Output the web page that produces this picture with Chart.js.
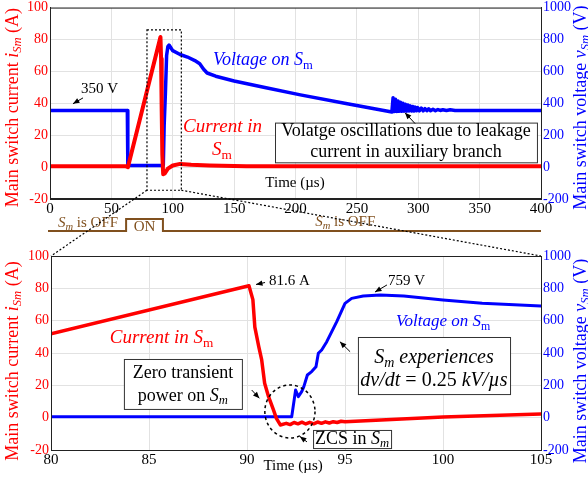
<!DOCTYPE html>
<html>
<head>
<meta charset="utf-8">
<script src="https://cdn.jsdelivr.net/npm/chart.js@4.4.0/dist/chart.umd.min.js"></script>
<style>
  html, body { margin: 0; padding: 0; background: #fff; }
  #wrap { position: relative; width: 588px; height: 478px; }
  #wrap canvas { position: absolute; left: 0; top: 0; }
</style>
</head>
<body>
<div id="wrap">
  <canvas id="overview" width="588" height="478"></canvas>
  <canvas id="detail" width="588" height="478"></canvas>
</div>
<script>

// overview: 0 .. 400 us
const ovCurT = [0, 62, 63.5, 90, 90.5, 91, 91.5, 92.2, 93.5, 96, 100, 106, 115, 130, 160, 400];
const ovCurA = [0.5, 0.5, 0, 81.6, 68, 35, 8, -4.5, -4, -1, 1, 2, 1.5, 1, 0.5, 0.5];

const ovVoltT = [0, 63, 63.4, 92.3, 93, 94, 95, 96, 97, 100, 106, 112, 118, 122, 125, 128, 135, 150, 176, 204, 240, 278.5,
  279.5, 280.5, 281.5, 282.5, 283.5, 284.5, 285.5, 286.5, 287.5, 288.5, 289.5, 290.5, 291.5, 292.5, 293.5, 294.5,
  295.5, 296.5, 297.5, 298.5, 299.5, 301, 302.5, 304, 305.5, 307, 308.5, 310, 312, 314, 316, 318, 320, 323, 326, 330, 400];
const ovVoltV = [355, 355, 10, 10, 260, 460, 700, 755, 765, 730, 706, 690, 668, 648, 615, 590, 570, 540, 498, 453, 400, 345,
  435, 348, 425, 349, 415, 350, 407, 350, 400, 351, 394, 351, 389, 352, 384, 352,
  380, 352, 376, 353, 373, 353, 370, 353, 367, 354, 365, 354, 363, 354, 361, 355, 360, 355, 359, 355, 355];

// gate signal of Sm (0 = off, 1 = on)
const gateT = [0, 62, 62, 92, 92, 400];
const gateOn = [0, 0, 1, 1, 0, 0];

// dotted zoom window in the overview: t0, t1, low A, high A
const zoomWin = [79, 107, -14.5, 86];

// detail: 80 .. 105 us
const detCurT = [80, 90.1, 90.3, 90.4, 90.6, 90.75, 90.9, 91.1, 91.35, 91.5, 91.7, 92.0, 92.2, 92.4, 92.6, 92.8, 93.0,
  93.2, 93.4, 93.6, 93.8, 94.0, 94.2, 94.4, 94.6, 94.8, 95, 100, 105];
const detCurA = [51.8, 81.6, 73, 56, 44, 35.7, 21.3, 13, 4.8, -0.4, -4.5, -3.5, -4.3, -3, -3.8, -2.8, -3.9,
  -2.9, -3.8, -2.7, -3.5, -2.6, -3.3, -2.5, -3.0, -2.2, -2.5, 0.4, 2.3];

const detVoltT = [80, 92.28, 92.48, 92.62, 92.79, 92.9, 93.08, 93.3, 93.52, 93.64, 93.81, 94.07, 94.58, 95.0, 95.34,
  95.93, 96.8, 98, 100, 102, 105];
const detVoltV = [5, 5, 171, 130, 161, 192, 264, 285, 315, 398, 419, 470, 594, 707, 738, 752, 759, 752, 728, 708, 690];

// ticks
const ovTimeTicks = [0, 50, 100, 150, 200, 250, 300, 350, 400];
const detTimeTicks = [80, 85, 90, 95, 100, 105];
const ampTicks = [-20, 0, 20, 40, 60, 80, 100];
const voltTicks = [-200, 0, 200, 400, 600, 800, 1000];

// ---- drawing helpers ----
const SERIF = "'Liberation Serif', 'Times New Roman', serif";
const BROWN = '#80501e';
Chart.defaults.font.family = SERIF;

function fnt(size, italic) { return (italic ? 'italic ' : '') + size + 'px ' + SERIF; }

// runs: [text, italic, subscript]
function drawRich(ctx, runs, x, y, size, color, align) {
  let w = 0;
  runs.forEach(r => { ctx.font = fnt(r[2] ? size * 0.7 : size, r[1]); w += ctx.measureText(r[0]).width; });
  let cx = align === 'center' ? x - w / 2 : (align === 'right' ? x - w : x);
  ctx.fillStyle = color;
  ctx.textBaseline = 'middle';
  ctx.textAlign = 'left';
  runs.forEach(r => {
    ctx.font = fnt(r[2] ? size * 0.7 : size, r[1]);
    ctx.fillText(r[0], cx, y + (r[2] ? size * 0.28 : 0));
    cx += ctx.measureText(r[0]).width;
  });
}

function arrow(ctx, x0, y0, x1, y1) {
  const a = Math.atan2(y1 - y0, x1 - x0), L = 7;
  ctx.setLineDash([]);
  ctx.strokeStyle = '#000'; ctx.fillStyle = '#000'; ctx.lineWidth = 1;
  ctx.beginPath(); ctx.moveTo(x0, y0); ctx.lineTo(x1, y1); ctx.stroke();
  ctx.beginPath(); ctx.moveTo(x1, y1);
  ctx.lineTo(x1 - L * Math.cos(a - 0.4), y1 - L * Math.sin(a - 0.4));
  ctx.lineTo(x1 - L * Math.cos(a + 0.4), y1 - L * Math.sin(a + 0.4));
  ctx.closePath(); ctx.fill();
}

function box(ctx, x0, y0, x1, y1) {
  ctx.setLineDash([]);
  ctx.fillStyle = '#fff';
  ctx.fillRect(x0, y0, x1 - x0, y1 - y0);
  ctx.strokeStyle = '#333'; ctx.lineWidth = 1;
  ctx.strokeRect(x0 + 0.5, y0 + 0.5, x1 - x0, y1 - y0);
}

function axisTitles(ctx, a, mid) {
  ctx.save();
  ctx.translate(13, mid); ctx.rotate(-Math.PI / 2);
  drawRich(ctx, [['Main switch current ', false], ['i', true], ['Sm', true, true], [' (A)', false]], 0, 0, 18, '#ff0000', 'center');
  ctx.restore();
  ctx.save();
  ctx.translate(581, mid); ctx.rotate(-Math.PI / 2);
  drawRich(ctx, [['Main switch voltage ', false], ['v', true], ['Sm', true, true], [' (V)', false]], 0, 0, 18, '#0000ff', 'center');
  ctx.restore();
}

function pts(ts, vs) { return ts.map((t, i) => ({ x: t, y: vs[i] })); }

function setTicks(arr) { return s => { s.ticks = arr.map(v => ({ value: v })); }; }

function scalesFor(timeTicks, tmin, tmax, leftW) {
  const grid = { color: '#e2e2e2', drawTicks: false };
  return {
    x: {
      type: 'linear', min: tmin, max: tmax,
      afterBuildTicks: setTicks(timeTicks),
      afterFit: s => { s.height = 20; },
      grid: grid, border: { color: '#222' },
      ticks: { color: '#000', font: { size: 15 }, padding: 1, maxRotation: 0, callback: v => String(v) }
    },
    yA: {
      position: 'left', min: -20, max: 100,
      afterBuildTicks: setTicks(ampTicks),
      afterFit: s => { s.width = leftW; },
      grid: grid, border: { color: '#222' },
      ticks: { color: '#ff0000', font: { size: 14, lineHeight: 0.8 }, padding: 2, callback: v => String(v) }
    },
    yV: {
      position: 'right', min: -200, max: 1000,
      afterBuildTicks: setTicks(voltTicks),
      afterFit: s => { s.width = 47; },
      grid: { display: false, drawTicks: false }, border: { color: '#222' },
      ticks: { color: '#0000ff', font: { size: 14, lineHeight: 0.8 }, padding: 2, callback: v => String(v) }
    }
  };
}

// ---- overview chart ----
const ovDecor = {
  id: 'ovDecor',
  afterDraw(c) {
    const ctx = c.ctx, a = c.chartArea;
    const X = v => c.scales.x.getPixelForValue(v), Y = v => c.scales.yA.getPixelForValue(v);
    ctx.save();
    ctx.setLineDash([]);
    ctx.strokeStyle = '#222'; ctx.lineWidth = 1;
    ctx.strokeRect(a.left + 0.5, a.top + 0.5, a.right - a.left, a.bottom - a.top);

    // zoom window
    ctx.setLineDash([2, 2]); ctx.strokeStyle = '#000'; ctx.lineWidth = 1.2;
    ctx.strokeRect(X(zoomWin[0]), Y(zoomWin[3]), X(zoomWin[1]) - X(zoomWin[0]), Y(zoomWin[2]) - Y(zoomWin[3]));

    // labels
    drawRich(ctx, [['350 V', false]], X(25.3), Y(49), 15, '#000', 'left');
    arrow(ctx, X(26.9), Y(43.4), X(18.7), Y(39.7));
    drawRich(ctx, [['Voltage on ', true], ['S', true], ['m', false, true]], X(132.8), Y(67), 18, '#0000ff', 'left');
    drawRich(ctx, [['Current in', true]], X(140.5), Y(25.4), 19, '#ff0000', 'center');
    drawRich(ctx, [['S', true], ['m', false, true]], X(140), Y(10.5), 19, '#ff0000', 'center');

    box(ctx, X(183.3), Y(27.9), X(396.7), Y(3));
    drawRich(ctx, [['Volatge oscillations due to leakage', false]], X(290), Y(22.6), 18, '#000', 'center');
    drawRich(ctx, [['current in auxiliary branch', false]], X(290), Y(9.2), 18, '#000', 'center');
    arrow(ctx, X(297.4), Y(27.3), X(289.2), Y(34.1));

    drawRich(ctx, [['Time (\u00b5s)', false]], X(199.6), Y(-10), 15, '#000', 'center');

    // gate signal under the time axis
    ctx.setLineDash([]);
    ctx.strokeStyle = BROWN; ctx.lineWidth = 2;
    ctx.beginPath();
    gateT.forEach((t, i) => {
      const px = X(t) + (i === 0 ? -2 : 0), py = a.bottom + 32 - gateOn[i] * 12;
      if (i === 0) ctx.moveTo(px, py); else ctx.lineTo(px, py);
    });
    ctx.stroke();
    drawRich(ctx, [['S', true], ['m', true, true], [' is OFF', false]], X(6.5), a.bottom + 24, 15, BROWN, 'left');
    drawRich(ctx, [['ON', false]], X((gateT[2] + gateT[3]) / 2), a.bottom + 28, 15, BROWN, 'center');
    drawRich(ctx, [['S', true], ['m', true, true], [' is OFF', false]], X(216), a.bottom + 23, 15, BROWN, 'left');

    axisTitles(ctx, a, a.top + 100);
    ctx.restore();
  }
};

const lineStyle = { pointRadius: 0, tension: 0, borderJoinStyle: 'round', borderCapStyle: 'round' };

const ovChart = new Chart(document.getElementById('overview'), {
  type: 'line',
  data: {
    datasets: [
      Object.assign({ label: 'Current', data: pts(ovCurT, ovCurA), yAxisID: 'yA', borderColor: '#ff0000', borderWidth: 4 }, lineStyle),
      Object.assign({ label: 'Voltage', data: pts(ovVoltT, ovVoltV), yAxisID: 'yV', borderColor: '#0000ff', borderWidth: 3.5 }, lineStyle)
    ]
  },
  options: {
    responsive: false, animation: false, events: [],
    layout: { padding: { top: 6, left: 0, right: 0, bottom: 259 } },
    plugins: { legend: { display: false }, tooltip: { enabled: false } },
    scales: scalesFor(ovTimeTicks, 0, 400, 50)
  },
  plugins: [ovDecor]
});

// ---- detail chart ----
const detDecor = {
  id: 'detDecor',
  afterDraw(c) {
    const ctx = c.ctx, a = c.chartArea;
    const X = v => c.scales.x.getPixelForValue(v), Y = v => c.scales.yA.getPixelForValue(v);
    ctx.save();
    ctx.setLineDash([]);
    ctx.strokeStyle = '#222'; ctx.lineWidth = 1;
    ctx.strokeRect(a.left + 0.5, a.top + 0.5, a.right - a.left, a.bottom - a.top);

    // connectors from the zoom window of the overview
    const oX = v => ovChart.scales.x.getPixelForValue(v), oY = v => ovChart.scales.yA.getPixelForValue(v);
    ctx.setLineDash([2, 2]); ctx.strokeStyle = '#000'; ctx.lineWidth = 1.2;
    ctx.beginPath();
    ctx.moveTo(oX(zoomWin[0]), oY(zoomWin[2])); ctx.lineTo(a.left, a.top);
    ctx.moveTo(oX(zoomWin[1]), oY(zoomWin[2])); ctx.lineTo(a.right, a.top);
    ctx.stroke();

    drawRich(ctx, [['81.6 A', false]], X(91.12), Y(84.5), 15, '#000', 'left');
    arrow(ctx, X(90.92), Y(83.6), X(90.46), Y(82.4));
    drawRich(ctx, [['759 V', false]], X(97.19), Y(84.5), 15, '#000', 'left');
    arrow(ctx, X(97.14), Y(82.1), X(96.53), Y(77.7));

    drawRich(ctx, [['Current in ', true], ['S', true], ['m', false, true]], X(83.0), Y(49.3), 19, '#ff0000', 'left');
    drawRich(ctx, [['Voltage on ', true], ['S', true], ['m', false, true]], X(97.6), Y(59.2), 17, '#0000ff', 'left');

    box(ctx, X(83.72), Y(36.3), X(89.74), Y(5.4));
    drawRich(ctx, [['Zero transient', false]], X(86.73), Y(27.6), 18, '#000', 'center');
    drawRich(ctx, [['power on ', false], ['S', true], ['m', true, true]], X(86.73), Y(13.4), 18, '#000', 'center');
    arrow(ctx, X(90.24), Y(17.1), X(90.63), Y(12));

    box(ctx, X(95.66), Y(49.9), X(103.42), Y(14.6));
    drawRich(ctx, [['S', true], ['m', true, true], [' experiences', true]], X(99.54), Y(36.9), 20, '#000', 'center');
    drawRich(ctx, [['dv/dt', true], [' = 0.25 ', false], ['kV/\u00b5s', true]], X(99.54), Y(22.7), 20, '#000', 'center');
    arrow(ctx, X(95.26), Y(40.8), X(94.74), Y(47));

    // dashed circle round the zero crossing
    ctx.setLineDash([3, 3]); ctx.strokeStyle = '#000'; ctx.lineWidth = 1.5;
    ctx.beginPath();
    ctx.ellipse(X(92.19), Y(3.8), X(93.47) - X(92.19), Y(-12.6) - Y(3.8), 0, 0, Math.PI * 2);
    ctx.stroke();

    box(ctx, X(93.37), Y(-7.6), X(97.35), Y(-18.8));
    drawRich(ctx, [['ZCS in ', false], ['S', true], ['m', true, true]], X(95.36), Y(-13.2), 18, '#000', 'center');
    arrow(ctx, X(93.06), Y(-15), X(92.7), Y(-11.6));

    drawRich(ctx, [['Time (\u00b5s)', false]], X(92.35), a.bottom + 16, 15, '#000', 'center');

    axisTitles(ctx, a, a.top + 105);
    ctx.restore();
  }
};

new Chart(document.getElementById('detail'), {
  type: 'line',
  data: {
    datasets: [
      Object.assign({ label: 'Current', data: pts(detCurT, detCurA), yAxisID: 'yA', borderColor: '#ff0000', borderWidth: 3.5 }, lineStyle),
      Object.assign({ label: 'Voltage', data: pts(detVoltT, detVoltV), yAxisID: 'yV', borderColor: '#0000ff', borderWidth: 3 }, lineStyle)
    ]
  },
  options: {
    responsive: false, animation: false, events: [],
    layout: { padding: { top: 256, left: 0, right: 0, bottom: 8 } },
    plugins: { legend: { display: false }, tooltip: { enabled: false } },
    scales: scalesFor(detTimeTicks, 80, 105, 51)
  },
  plugins: [detDecor]
});
</script>
</body>
</html>
